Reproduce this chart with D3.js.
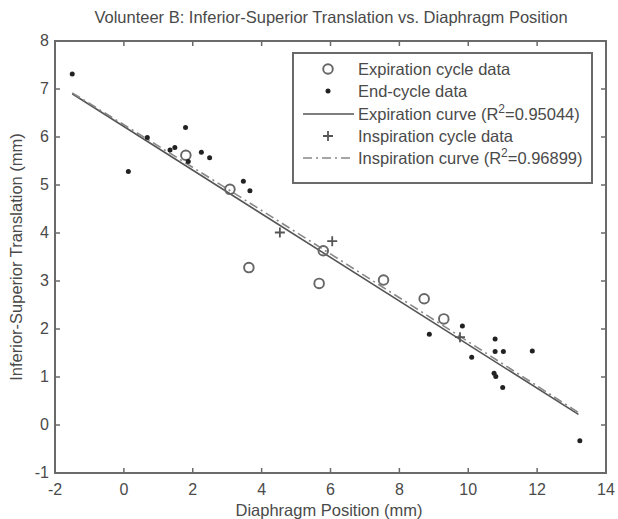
<!DOCTYPE html>
<html><head><meta charset="utf-8">
<script src="https://cdn.jsdelivr.net/npm/d3@7"></script>
<style>body{margin:0;background:#fff;} text{font-family:"Liberation Sans",Arial,sans-serif;}</style>
</head><body><svg id="c" width="618" height="519"></svg>
<script>
const title = "Volunteer B: Inferior-Superior Translation vs. Diaphragm Position";
const xLabel = "Diaphragm Position (mm)";
const yLabel = "Inferior-Superior Translation (mm)";
const xTicks = [-2,0,2,4,6,8,10,12,14];
const yTicks = [-1,0,1,2,3,4,5,6,7,8];

const expX = [1.80, 3.08, 3.63, 5.67, 5.79, 7.54, 8.72, 9.29];
const expY = [5.62, 4.91, 3.28, 2.95, 3.63, 3.02, 2.63, 2.21];

const endX = [-1.50, 1.79, 0.68, 1.34, 1.48, 1.87, 2.25, 2.49, 0.13, 3.47, 3.66, 8.87, 9.83, 10.10, 10.78, 10.78, 11.02, 10.75, 10.80, 11.00, 11.86, 13.24];
const endY = [7.31, 6.20, 5.99, 5.73, 5.78, 5.49, 5.68, 5.57, 5.28, 5.08, 4.88, 1.89, 2.06, 1.41, 1.79, 1.53, 1.53, 1.08, 1.01, 0.78, 1.54, -0.33];

const inspX = [4.53, 6.05, 9.76];
const inspY = [4.01, 3.83, 1.83];

const expCurveX = [-1.5, 13.2];
const expCurveY = [6.90, 0.22];
const inspCurveX = [-1.5, 3, 7.5, 13.2];
const inspCurveY = [6.92, 4.92, 2.88, 0.26];

const legendLabels = ["Expiration cycle data", "End-cycle data", "Expiration curve (R²=0.95044)", "Inspiration cycle data", "Inspiration curve (R²=0.96899)"];

const svg = d3.select("#c");
const L = 55, R = 606, T = 41, B = 473;
const x = d3.scaleLinear().domain([-2, 14]).range([L, R]);
const y = d3.scaleLinear().domain([-1, 8]).range([B, T]);
const axisCol = "#6a6a6a", textCol = "#4a4a4a";

// ticks (inward, all four sides)
const g = svg.append("g");
xTicks.forEach(t => {
  g.append("line").attr("x1", x(t)).attr("x2", x(t)).attr("y1", B).attr("y2", B - 5).attr("stroke", axisCol).attr("stroke-width", 1.5);
  g.append("line").attr("x1", x(t)).attr("x2", x(t)).attr("y1", T).attr("y2", T + 5).attr("stroke", axisCol).attr("stroke-width", 1.5);
  g.append("text").attr("x", x(t)).attr("y", B + 22).attr("text-anchor", "middle").attr("font-size", 16).attr("fill", textCol).text(t);
});
yTicks.forEach(t => {
  g.append("line").attr("x1", L).attr("x2", L + 5).attr("y1", y(t)).attr("y2", y(t)).attr("stroke", axisCol).attr("stroke-width", 1.5);
  g.append("line").attr("x1", R).attr("x2", R - 5).attr("y1", y(t)).attr("y2", y(t)).attr("stroke", axisCol).attr("stroke-width", 1.5);
  g.append("text").attr("x", L - 6).attr("y", y(t) + 5).attr("text-anchor", "end").attr("font-size", 16).attr("fill", textCol).text(t);
});
svg.append("rect").attr("x", L).attr("y", T).attr("width", R - L).attr("height", B - T)
  .attr("fill", "none").attr("stroke", axisCol).attr("stroke-width", 2);

// title and labels
svg.append("text").attr("x", 331).attr("y", 23).attr("text-anchor", "middle").attr("font-size", 16.5).attr("fill", textCol).text(title);
svg.append("text").attr("x", 329).attr("y", 516).attr("text-anchor", "middle").attr("font-size", 16.5).attr("fill", textCol).text(xLabel);
svg.append("text").attr("transform", `translate(22,${(T + B) / 2}) rotate(-90)`).attr("text-anchor", "middle").attr("font-size", 16.5).attr("fill", textCol).text(yLabel);

// curves
const line = d3.line().x(d => x(d[0])).y(d => y(d[1]));
const lineS = d3.line().x(d => x(d[0])).y(d => y(d[1])).curve(d3.curveMonotoneX);
svg.append("path").attr("d", line(expCurveX.map((v, i) => [v, expCurveY[i]])))
  .attr("fill", "none").attr("stroke", "#555").attr("stroke-width", 1.6);
svg.append("path").attr("d", lineS(inspCurveX.map((v, i) => [v, inspCurveY[i]])))
  .attr("fill", "none").attr("stroke", "#888").attr("stroke-width", 1.6).attr("stroke-dasharray", "9,4,2,4");

// markers
function circleMark(sel, cx, cy) {
  sel.append("circle").attr("cx", cx).attr("cy", cy).attr("r", 4.8).attr("fill", "none").attr("stroke", "#666").attr("stroke-width", 1.9);
}
function dotMark(sel, cx, cy) {
  sel.append("circle").attr("cx", cx).attr("cy", cy).attr("r", 2.5).attr("fill", "#222");
}
function plusMark(sel, cx, cy) {
  sel.append("path").attr("d", `M${cx - 5},${cy}H${cx + 5}M${cx},${cy - 5}V${cy + 5}`).attr("stroke", "#555").attr("stroke-width", 1.8);
}
const m = svg.append("g");
expX.forEach((v, i) => circleMark(m, x(v), y(expY[i])));
endX.forEach((v, i) => dotMark(m, x(v), y(endY[i])));
inspX.forEach((v, i) => plusMark(m, x(v), y(inspY[i])));

// legend
const lg = svg.append("g");
lg.append("rect").attr("x", 293).attr("y", 53).attr("width", 299).attr("height", 130).attr("fill", "#fff").attr("stroke", axisCol).attr("stroke-width", 2);
const rows = [69, 91, 114, 136, 158];
const sx = 328, tx = 358;
circleMark(lg, sx, rows[0]);
dotMark(lg, sx, rows[1]);
lg.append("line").attr("x1", 303).attr("x2", 354).attr("y1", rows[2]).attr("y2", rows[2]).attr("stroke", "#555").attr("stroke-width", 1.6);
plusMark(lg, sx, rows[3]);
lg.append("line").attr("x1", 303).attr("x2", 354).attr("y1", rows[4]).attr("y2", rows[4]).attr("stroke", "#888").attr("stroke-width", 1.6).attr("stroke-dasharray", "9,4,2,4");
legendLabels.forEach((s, i) => {
  const t = lg.append("text").attr("x", tx).attr("y", rows[i] + 6).attr("font-size", 16.5).attr("fill", textCol);
  if (s.includes("R²")) {
    const parts = s.split("²");
    t.append("tspan").text(parts[0]);
    t.append("tspan").attr("dy", -7).attr("font-size", 12).text("2");
    t.append("tspan").attr("dy", 7).text(parts[1]);
  } else t.text(s);
});
</script></body></html>
